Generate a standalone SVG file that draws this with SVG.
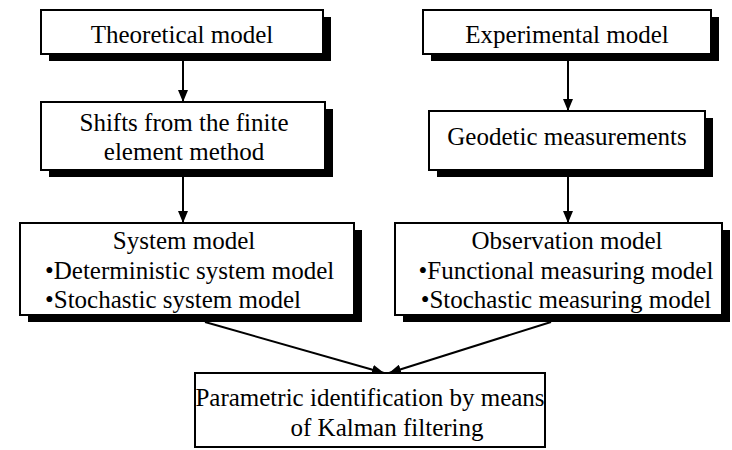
<svg xmlns="http://www.w3.org/2000/svg" width="732" height="450" viewBox="0 0 732 450">
<defs>
<marker id="ah" viewBox="0 0 12 10" refX="12" refY="5" markerWidth="12" markerHeight="10" markerUnits="userSpaceOnUse" orient="auto">
<path d="M0,0 L12,5 L0,10 Z" fill="#000"/>
</marker>
</defs>
<rect width="732" height="450" fill="#fff"/>
<g id="connectors" stroke="#000" stroke-width="2" fill="none">
<line x1="183" y1="61" x2="183" y2="102" marker-end="url(#ah)"/>
<line x1="568" y1="61" x2="568" y2="111" marker-end="url(#ah)"/>
<line x1="183" y1="177" x2="183" y2="223" marker-end="url(#ah)"/>
<line x1="568" y1="177" x2="568" y2="223" marker-end="url(#ah)"/>
<line x1="205" y1="322" x2="384" y2="373" marker-end="url(#ah)"/>
<line x1="551" y1="322" x2="389" y2="373" marker-end="url(#ah)"/>
</g>
<g id="theoretical">
<rect x="49" y="17" width="282" height="44" fill="#000"/>
<rect x="41" y="10" width="282" height="44" fill="#fff" stroke="#000" stroke-width="2"/>
<text x="182" y="43" font-family="Liberation Serif" font-size="25" text-anchor="middle" style="font-family:'Liberation Serif','Times New Roman',Tinos,serif !important">Theoretical model</text>
</g>
<g id="experimental">
<rect x="431" y="17" width="288" height="44" fill="#000"/>
<rect x="423" y="10" width="288" height="44" fill="#fff" stroke="#000" stroke-width="2"/>
<text x="567" y="43" font-family="Liberation Serif" font-size="25" text-anchor="middle" style="font-family:'Liberation Serif','Times New Roman',Tinos,serif !important">Experimental model</text>
</g>
<g id="shifts">
<rect x="49" y="109" width="284" height="68" fill="#000"/>
<rect x="41" y="102" width="284" height="68" fill="#fff" stroke="#000" stroke-width="2"/>
<text x="184" y="131" font-family="Liberation Serif" font-size="25" text-anchor="middle" style="font-family:'Liberation Serif','Times New Roman',Tinos,serif !important">Shifts from the finite</text>
<text x="184" y="160" font-family="Liberation Serif" font-size="25" text-anchor="middle" style="font-family:'Liberation Serif','Times New Roman',Tinos,serif !important">element method</text>
</g>
<g id="geodetic">
<rect x="437" y="118" width="276" height="59" fill="#000"/>
<rect x="429" y="111" width="276" height="59" fill="#fff" stroke="#000" stroke-width="2"/>
<text x="567" y="145" font-family="Liberation Serif" font-size="25" text-anchor="middle" style="font-family:'Liberation Serif','Times New Roman',Tinos,serif !important">Geodetic measurements</text>
</g>
<g id="system">
<rect x="28" y="230" width="334" height="92" fill="#000"/>
<rect x="20" y="223" width="334" height="92" fill="#fff" stroke="#000" stroke-width="2"/>
<text x="184" y="249" font-family="Liberation Serif" font-size="25" text-anchor="middle" style="font-family:'Liberation Serif','Times New Roman',Tinos,serif !important">System model</text>
<text x="45" y="279" font-family="Liberation Serif" font-size="25" style="font-family:'Liberation Serif','Times New Roman',Tinos,serif !important">&#8226;Deterministic system model</text>
<text x="45" y="308" font-family="Liberation Serif" font-size="25" style="font-family:'Liberation Serif','Times New Roman',Tinos,serif !important">&#8226;Stochastic system model</text>
</g>
<g id="observation">
<rect x="403" y="230" width="327" height="92" fill="#000"/>
<rect x="395" y="223" width="327" height="92" fill="#fff" stroke="#000" stroke-width="2"/>
<text x="567" y="249" font-family="Liberation Serif" font-size="25" text-anchor="middle" style="font-family:'Liberation Serif','Times New Roman',Tinos,serif !important">Observation model</text>
<text x="566" y="279" font-family="Liberation Serif" font-size="25" text-anchor="middle" style="font-family:'Liberation Serif','Times New Roman',Tinos,serif !important">&#8226;Functional measuring model</text>
<text x="566" y="308" font-family="Liberation Serif" font-size="25" text-anchor="middle" style="font-family:'Liberation Serif','Times New Roman',Tinos,serif !important">&#8226;Stochastic measuring model</text>
</g>
<g id="kalman">
<rect x="195" y="373" width="350" height="74" fill="#fff" stroke="#000" stroke-width="2"/>
<text x="370" y="406" font-family="Liberation Serif" font-size="25" text-anchor="middle" style="font-family:'Liberation Serif','Times New Roman',Tinos,serif !important">Parametric identification by means</text>
<text x="387" y="436" font-family="Liberation Serif" font-size="25" text-anchor="middle" style="font-family:'Liberation Serif','Times New Roman',Tinos,serif !important">of Kalman filtering</text>
</g>
</svg>
